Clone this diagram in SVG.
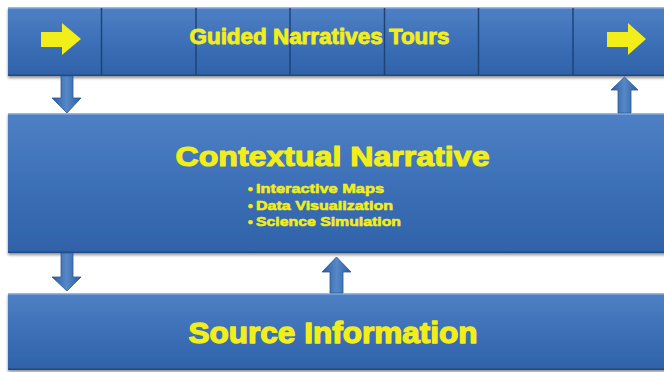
<svg xmlns="http://www.w3.org/2000/svg" width="664" height="372" viewBox="0 0 664 372">
  <defs>
    <linearGradient id="boxFill" x1="0" y1="0" x2="0" y2="1">
      <stop offset="0" stop-color="#4f80c4"/>
      <stop offset="0.5" stop-color="#3c70b8"/>
      <stop offset="1" stop-color="#2f62a8"/>
    </linearGradient>
    <linearGradient id="arrowFill" x1="0" y1="0" x2="1" y2="0">
      <stop offset="0" stop-color="#2c5c9e"/>
      <stop offset="0.5" stop-color="#5688c8"/>
      <stop offset="1" stop-color="#2c5c9e"/>
    </linearGradient>
    <filter id="shadow" x="-5%" y="-10%" width="110%" height="130%">
      <feGaussianBlur in="SourceAlpha" stdDeviation="1.5"/>
      <feOffset dx="0" dy="2" result="b"/>
      <feComponentTransfer><feFuncA type="linear" slope="0.45"/></feComponentTransfer>
      <feMerge><feMergeNode/><feMergeNode in="SourceGraphic"/></feMerge>
    </filter>
  </defs>
  <style>
    .box { fill: url(#boxFill); filter: url(#shadow); }
    .hi { fill: #9ab8e2; }
    .lo { fill: #1f4a84; }
    .div { stroke: #1e4476; stroke-width: 1.5; }
    .arrow { fill: url(#arrowFill); stroke: #2a5895; stroke-width: 0.8; }
    .yellow { fill: #f2ee1a; }
    .lbl { fill: #f2ee1a; stroke: #f2ee1a; stroke-linejoin: round; font-family: "Liberation Sans", Arial, sans-serif; font-weight: bold; }
  </style>

  <rect width="664" height="372" fill="#ffffff"/>

  <!-- top band: guided tours -->
  <g id="guided-tours">
    <rect class="box" x="8" y="7" width="660" height="69"/>
    <rect class="hi" x="8" y="7" width="660" height="1.5"/>
    <rect class="lo" x="8" y="74.5" width="660" height="1.5"/>
    <line class="div" x1="101.5" y1="8" x2="101.5" y2="75"/>
    <line class="div" x1="196" y1="8" x2="196" y2="75"/>
    <line class="div" x1="290" y1="8" x2="290" y2="75"/>
    <line class="div" x1="384.5" y1="8" x2="384.5" y2="75"/>
    <line class="div" x1="478.5" y1="8" x2="478.5" y2="75"/>
    <line class="div" x1="573" y1="8" x2="573" y2="75"/>
    <polygon class="yellow" points="41,32 62,32 62,23 81,39 62,55 62,47 41,47"/>
    <polygon class="yellow" points="607,32 628,32 628,23 646,39 628,55 628,47 607,47"/>
    <text class="lbl" x="189.5" y="44" font-size="22" stroke-width="0.9" textLength="260" lengthAdjust="spacingAndGlyphs">Guided Narratives Tours</text>
  </g>

  <!-- middle band: contextual narrative -->
  <g id="contextual-narrative">
    <rect class="box" x="8" y="113" width="660" height="140"/>
    <rect class="hi" x="8" y="113" width="660" height="1.5"/>
    <rect class="lo" x="8" y="251.5" width="660" height="1.5"/>
    <text class="lbl" x="175.5" y="166" font-size="27" stroke-width="1.1" textLength="314" lengthAdjust="spacingAndGlyphs">Contextual Narrative</text>
    <text class="lbl" font-size="13.5" stroke-width="0.6">
      <tspan x="248" y="193">•</tspan><tspan x="256" y="193" textLength="128" lengthAdjust="spacingAndGlyphs">Interactive Maps</tspan>
      <tspan x="248" y="209.5">•</tspan><tspan x="256" y="209.5" textLength="137" lengthAdjust="spacingAndGlyphs">Data Visualization</tspan>
      <tspan x="248" y="226">•</tspan><tspan x="256" y="226" textLength="145" lengthAdjust="spacingAndGlyphs">Science Simulation</tspan>
    </text>
  </g>

  <!-- bottom band: source information -->
  <g id="source-information">
    <rect class="box" x="8" y="293" width="660" height="77"/>
    <rect class="hi" x="8" y="293" width="660" height="1.5"/>
    <rect class="lo" x="8" y="368.5" width="660" height="1.5"/>
    <text class="lbl" x="188.5" y="343" font-size="29" stroke-width="1.3" textLength="289" lengthAdjust="spacingAndGlyphs">Source Information</text>
  </g>

  <!-- flow arrows between bands -->
  <g id="connectors">
    <polygon class="arrow" points="61,76 73,76 73,98 81,98 67,113 52,98 61,98"/>
    <polygon class="arrow" points="618,113 631,113 631,90 638,90 624.5,77 611,90 618,90"/>
    <polygon class="arrow" points="61,253 73,253 73,277 81,277 67,291 52,277 61,277"/>
    <polygon class="arrow" points="330,293 343,293 343,272 351,272 336.5,257 322,272 330,272"/>
  </g>
</svg>
